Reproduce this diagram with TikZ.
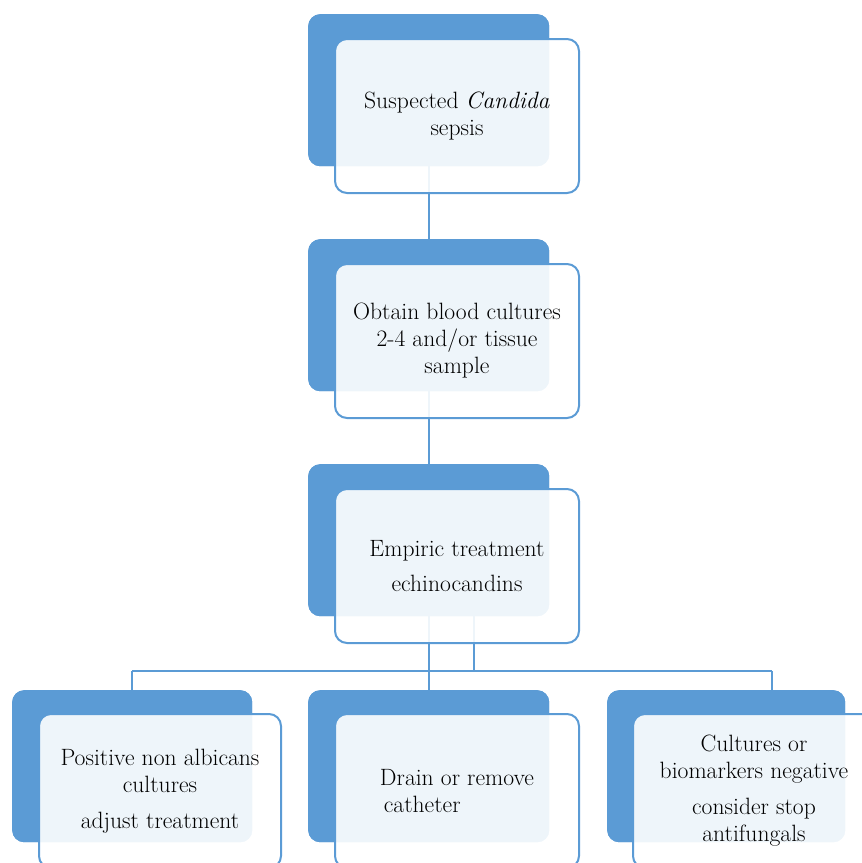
\documentclass[tikz,border=0pt]{standalone}
\definecolor{accent}{HTML}{5B9BD5}
\definecolor{txt}{HTML}{000000}
\tikzset{
  darkbox/.style={fill=accent, draw=none, rounded corners=12pt, inner sep=0pt, anchor=north west},
  litebox/.style={draw=accent, line width=2pt, fill=white, fill opacity=0.9, text opacity=1,
    rounded corners=12pt, inner sep=0pt, anchor=north west, text=txt,
    font=\fontsize{23.6}{27}\selectfont},
  conn/.style={draw=accent, line width=2pt}
}
\begin{document}
\begin{tikzpicture}[x=1pt,y=-1pt]
\useasboundingbox (0,0) rectangle (862,863);
\clip (0,0) rectangle (862,863);
% junction coordinates
\coordinate (bus) at (0,671);
\coordinate (j2) at (474,615);
\coordinate (rdrop) at (772,690);
% dark back boxes (positions needed for connectors)
\path
  node[darkbox, minimum width=241pt, minimum height=152pt] (d1) at (308,14) {}
  node[darkbox, minimum width=241pt, minimum height=152pt] (d2) at (308,239) {}
  node[darkbox, minimum width=241pt, minimum height=152pt] (d3) at (308,464) {}
  node[darkbox, minimum width=240pt, minimum height=152pt] (d4) at (12,690) {}
  node[darkbox, minimum width=241pt, minimum height=152pt] (d5) at (308,690) {}
  node[darkbox, minimum width=238pt, minimum height=152pt] (d6) at (607,690) {};
% connectors (behind)
\draw[conn] (d1.south) -- (d2.north);
\draw[conn] (d2.south) -- (d3.north);
\draw[conn] (d3.south) -- (d5.north);
\draw[conn] (j2) -- (j2 |- bus);
\draw[conn] (d4.north |- bus) -- (rdrop |- bus);
\draw[conn] (d4.north |- bus) -- (d4.north);
\draw[conn] (rdrop |- bus) -- (rdrop);
% boxes
\node[darkbox, minimum width=241pt, minimum height=152pt] at (308,14) {};
\node[litebox, minimum width=244pt, minimum height=154pt, align=center] (o1) at (334,38)
  {Suspected \textit{Candida}\\ sepsis};
\node[darkbox, minimum width=241pt, minimum height=152pt] at (308,239) {};
\node[litebox, minimum width=244pt, minimum height=154pt, align=center] (o2) at (334,263)
  {Obtain blood cultures\\ 2-4 and/or tissue\\ sample};
\node[darkbox, minimum width=241pt, minimum height=152pt] at (308,464) {};
\node[litebox, minimum width=244pt, minimum height=154pt, align=center] (o3) at (334,488)
  {Empiric treatment\\[8pt] echinocandins};
\node[darkbox, minimum width=240pt, minimum height=152pt] at (12,690) {};
\node[litebox, minimum width=242pt, minimum height=154pt, align=center] (o4) at (38,713)
  {Positive non albicans\\ cultures\\[9pt] adjust treatment};
\node[darkbox, minimum width=241pt, minimum height=152pt] at (308,690) {};
\node[litebox, minimum width=244pt, minimum height=154pt, align=left] (o5) at (334,713)
  {Drain or remove\\ \,catheter};
\node[darkbox, minimum width=238pt, minimum height=152pt] at (607,690) {};
\node[litebox, minimum width=242pt, minimum height=154pt, align=center] (o6) at (632,713)
  {Cultures or\\ biomarkers negative\\[9pt] consider stop\\ antifungals};
\end{tikzpicture}
\end{document}
